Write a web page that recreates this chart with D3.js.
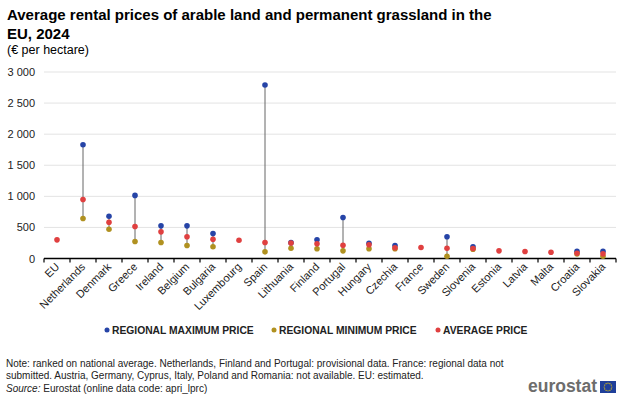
<!DOCTYPE html>
<html>
<head>
<meta charset="utf-8">
<script src="https://cdn.jsdelivr.net/npm/d3@7"></script>
<style>
  body { margin: 0; background: #fff; }
  svg text { font-family: "Liberation Sans", Arial, sans-serif; }
</style>
</head>
<body>
<div id="chart"></div>
<script>
// data (EUR per hectare)
var countries = ["EU", "Netherlands", "Denmark", "Greece", "Ireland", "Belgium", "Bulgaria", "Luxembourg",
  "Spain", "Lithuania", "Finland", "Portugal", "Hungary", "Czechia", "France", "Sweden", "Slovenia",
  "Estonia", "Latvia", "Malta", "Croatia", "Slovakia"];
var maxPrice = [null, 1830, 680, 1015, 525, 525, 402, null, 2790, 255, 300, 659, 246, 209, null, 349, 188,
  null, null, null, 117, 117];
var minPrice = [null, 643, 471, 273, 257, 209, 188, null, 107, 166, 156, 123, 156, 156, null, 37, 150,
  null, null, null, 75, 37];
var avgPrice = [300, 948, 583, 514, 429, 349, 310, 294, 257, 250, 236, 214, 220, 172, 177, 166, 161,
  123, 112, 101, 85, 75];
var yTicks = [0, 500, 1000, 1500, 2000, 2500, 3000];

var width = 626, height = 398;
var blue = "#2644a7", gold = "#b09120", red = "#e04040";

var svg = d3.select("#chart").append("svg").attr("width", width).attr("height", height);

var x = d3.scaleBand().domain(countries).range([44, 616]);
var y = d3.scaleLinear().domain([0, 3000]).range([258.5, 72]);
var fmt = d3.formatLocale({decimal: ",", thousands: "\u00a0", grouping: [3], currency: ["", "€"]}).format(",d");

// title
svg.append("text").attr("x", 7).attr("y", 20).attr("font-size", 15).attr("font-weight", "bold")
  .text("Average rental prices of arable land and permanent grassland in the");
svg.append("text").attr("x", 7).attr("y", 38.5).attr("font-size", 15).attr("font-weight", "bold")
  .text("EU, 2024");
svg.append("text").attr("x", 7).attr("y", 53.5).attr("font-size", 12.5).text("(€ per hectare)");

// grid + y labels
svg.append("g").selectAll("line").data(yTicks.slice(1)).join("line")
  .attr("x1", 44).attr("x2", 616).attr("y1", d => y(d)).attr("y2", d => y(d))
  .attr("stroke", "#e3e3e3").attr("stroke-width", 1);
svg.append("g").selectAll("text").data(yTicks).join("text")
  .attr("x", 35).attr("y", d => y(d) + 4).attr("text-anchor", "end").attr("font-size", 11).attr("fill", "#222")
  .text(d => fmt(d));

// x axis
var xAxis = svg.append("g");
xAxis.append("line").attr("x1", 44).attr("x2", 616).attr("y1", y(0)).attr("y2", y(0))
  .attr("stroke", "#000").attr("stroke-width", 1.5);
xAxis.selectAll("line.tick").data(countries.concat(["_end"])).join("line").attr("class", "tick")
  .attr("x1", (d, i) => 44 + i * x.bandwidth()).attr("x2", (d, i) => 44 + i * x.bandwidth())
  .attr("y1", y(0)).attr("y2", y(0) + 4).attr("stroke", "#000").attr("stroke-width", 1.2);
xAxis.selectAll("text").data(countries).join("text")
  .attr("transform", d => "translate(" + (x(d) + x.bandwidth() / 2 + 3) + "," + (y(0) + 9) + ") rotate(-45)")
  .attr("text-anchor", "end").attr("font-size", 11).attr("fill", "#222")
  .text(d => d);

// range lines
var rows = countries.map((c, i) => ({c: c, max: maxPrice[i], min: minPrice[i], avg: avgPrice[i]}));
svg.append("g").selectAll("line").data(rows.filter(d => d.max != null && d.min != null)).join("line")
  .attr("x1", d => x(d.c) + x.bandwidth() / 2).attr("x2", d => x(d.c) + x.bandwidth() / 2)
  .attr("y1", d => y(d.min)).attr("y2", d => y(d.max))
  .attr("stroke", "#666").attr("stroke-width", 1);

function dots(key, color) {
  svg.append("g").selectAll("circle").data(rows.filter(d => d[key] != null)).join("circle")
    .attr("cx", d => x(d.c) + x.bandwidth() / 2).attr("cy", d => y(d[key]))
    .attr("r", 2.8).attr("fill", color);
}
dots("max", blue);
dots("min", gold);
dots("avg", red);

// legend
var legend = [
  {label: "REGIONAL MAXIMUM PRICE", color: blue, x: 107},
  {label: "REGIONAL MINIMUM PRICE", color: gold, x: 274},
  {label: "AVERAGE PRICE", color: red, x: 438}
];
var lg = svg.append("g").selectAll("g").data(legend).join("g")
  .attr("transform", d => "translate(" + d.x + ",330)");
lg.append("circle").attr("r", 2.5).attr("fill", d => d.color);
lg.append("text").attr("x", 5).attr("y", 4).attr("font-size", 10.3).attr("font-weight", "bold")
  .attr("fill", "#222").text(d => d.label);

// notes
svg.append("text").attr("x", 6).attr("y", 367).attr("font-size", 10).attr("fill", "#222")
  .text("Note: ranked on national average. Netherlands, Finland and Portugal: provisional data. France: regional data not");
svg.append("text").attr("x", 6).attr("y", 379).attr("font-size", 10).attr("fill", "#222")
  .text("submitted. Austria, Germany, Cyprus, Italy, Poland and Romania: not available. EU: estimated.");
var src = svg.append("text").attr("x", 6).attr("y", 392).attr("font-size", 10).attr("fill", "#222");
src.append("tspan").attr("font-style", "italic").text("Source:");
src.append("tspan").text(" Eurostat (online data code: apri_lprc)");

// eurostat logo
svg.append("text").attr("x", 597).attr("y", 392).attr("text-anchor", "end").attr("font-size", 17.5)
  .attr("font-weight", "bold").attr("fill", "#6d6d6d").text("eurostat");
svg.append("rect").attr("x", 600).attr("y", 381).attr("width", 16).attr("height", 12).attr("fill", "#1f3f9a");
svg.append("g").selectAll("circle").data(d3.range(12)).join("circle")
  .attr("cx", d => 608 + 3.8 * Math.cos(d * Math.PI / 6)).attr("cy", d => 387 + 3.8 * Math.sin(d * Math.PI / 6))
  .attr("r", 0.6).attr("fill", "#f5d000");
</script>
</body>
</html>
